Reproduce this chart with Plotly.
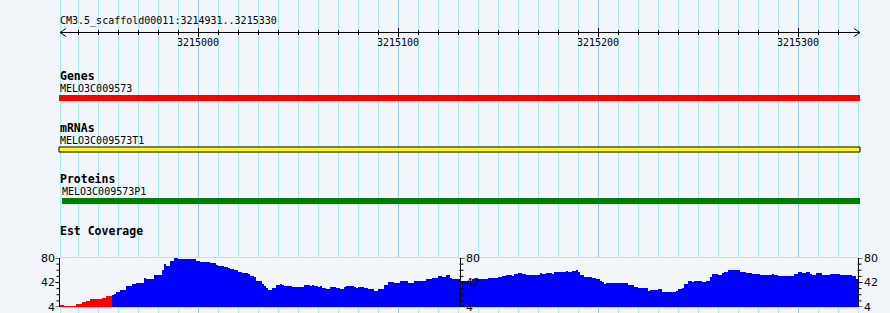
import plotly.graph_objects as go
import numpy as np

# ---------------- data ----------------
view_start = 3214931
view_end = 3215330
region_title = "CM3.5_scaffold00011:3214931..3215330"
major_ticks = [3215000, 3215100, 3215200, 3215300]
major_tick_labels = ["3215000", "3215100", "3215200", "3215300"]

track_names = ["Genes", "mRNAs", "Proteins"]
feature_names = ["MELO3C009573", "MELO3C009573T1", "MELO3C009573P1"]
feature_starts = [3214800, 3214800, 3214932]
feature_ends = [3215500, 3215500, 3215500]
feature_colors = ["#FF0000", "#FFFF00", "#008000"]

cov_track_name = "Est Coverage"
# coverage runs: start offset (bp from view_start) and depth
cov_offsets = [0, 2, 8, 11, 13, 15, 17, 21, 23, 26, 27, 28, 30, 33, 36, 38, 42, 43, 47, 51,
               52, 53, 55, 57, 59, 61, 68, 70, 72, 75, 77, 78, 79, 82, 84, 85, 87, 89, 90, 91,
               94, 95, 97, 98, 101, 102, 103, 104, 106, 108, 110, 111, 112, 116, 118, 120, 122, 125, 126, 127,
               129, 130, 131, 133, 135, 138, 140, 142, 143, 147, 148, 149, 152, 154, 157, 159, 162, 164, 167, 170,
               174, 177, 178, 183, 186, 189, 191, 193, 195, 196, 200, 206, 214, 219, 221, 223, 226, 227, 229, 231,
               233, 240, 241, 243, 246, 247, 253, 254, 256, 258, 259, 260, 262, 266, 268, 270, 271, 272, 273, 284,
               287, 289, 294, 295, 299, 301, 308, 309, 311, 312, 314, 316, 317, 321, 323, 325, 326, 327, 329, 331,
               332, 334, 340, 343, 346, 348, 350, 356, 357, 359, 367, 369, 371, 373, 375, 376, 378, 381, 382, 385,
               390, 396, 398]
cov_values = [7.6, 5.5, 9, 11.7, 13.8, 16, 17, 18, 20.6, 22, 24.6, 27, 31, 37, 39, 41.7, 49, 48, 54, 61,
              70, 67.5, 76, 80, 78, 79, 75, 74, 74.5, 72.5, 71.5, 69.6, 67.5, 66, 64.5, 63, 61, 59, 58, 57,
              55, 52, 50.5, 44, 40, 36, 33.5, 31, 33.5, 37.6, 39.6, 37.6, 36.6, 34.5, 35.5, 34.5, 38, 37, 38.6, 36.6,
              35, 36, 34, 32.5, 35.5, 34, 32.5, 34.5, 37, 35.5, 34, 34.5, 33.5, 31.5, 29.5, 31.5, 38.6, 42.7, 41.7, 44,
              41.7, 44, 44.8, 48, 49.5, 52, 50.6, 53, 49.5, 48, 45, 48, 49, 51, 52, 53, 51.5, 55.7, 57, 55,
              54, 57, 54.5, 56, 55.5, 58, 60, 58, 59.5, 62, 58, 54, 50.5, 49.5, 48, 44.8, 42.7, 39.6, 41, 38.6,
              35.5, 33.5, 29, 31, 32.5, 28, 29, 31.5, 33.5, 40, 44.3, 42.7, 44.5, 42.7, 44.8, 50.5, 54.7, 55.7, 54.3, 56,
              58, 62, 58, 57, 54.5, 55.5, 54, 55, 54, 51.6, 55.7, 58, 57, 58, 55.5, 54, 56, 54, 53, 55,
              53.5, 52, 48]
cov_end_offset = 399
cov_min, cov_max = 4, 80
cov_tick_labels = ["80", "42", "4"]
cov_low_threshold = 21

# ---------------- layout constants ----------------
W, H = 890, 313
BG = "#F2F5FA"
GRID_MINOR = "#A8EEF0"
GRID_MAJOR = "#99CCEE"
FONT = "DejaVu Sans Mono"
x0 = view_start - 30
x1 = x0 + W / 2.0
cov_top_px, cov_bot_px = 258, 307

fig = go.Figure()

# coverage bars
starts = np.array(cov_offsets, dtype=float)
ends = np.append(starts[1:], cov_end_offset)
widths = ends - starts
centers = view_start + starts + widths / 2.0
cols = ["#FF0000" if v < cov_low_threshold else "#0000FF" for v in cov_values]
fig.add_trace(go.Bar(x=centers, y=cov_values, width=widths, marker=dict(color=cols, line=dict(width=0)),
                     xaxis="x", yaxis="y2", hoverinfo="skip", showlegend=False))

shapes = []
ann = []

# vertical grid lines
grid_pos = [view_start] + list(range(3214940, view_end + 1, 10))
for p in grid_pos:
    c = GRID_MAJOR if p % 100 == 0 else GRID_MINOR
    shapes.append(dict(type="line", xref="x", yref="y", x0=p + 0.25, x1=p + 0.25, y0=0, y1=H,
                       line=dict(color=c, width=1), layer="below"))

# horizontal grid lines in coverage panel (pixel rows)
for r in [257.5, 262.5, 268.5, 275.5, 282.5, 289.5, 296.5, 302.5, 307.5]:
    shapes.append(dict(type="line", xref="x", yref="y", x0=view_start, x1=view_end + 0.5, y0=r, y1=r,
                       line=dict(color=GRID_MINOR, width=1), layer="below"))

# ruler
ay = 32.5
shapes.append(dict(type="line", xref="x", yref="y", x0=view_start, x1=view_end + 1, y0=ay, y1=ay,
                   line=dict(color="black", width=1)))
for (xa, xb) in [(view_start, view_start + 3), (view_end + 1, view_end - 2)]:
    shapes.append(dict(type="line", xref="x", yref="y", x0=xb, x1=xa, y0=ay - 4, y1=ay, line=dict(color="black", width=1)))
    shapes.append(dict(type="line", xref="x", yref="y", x0=xb, x1=xa, y0=ay + 4, y1=ay, line=dict(color="black", width=1)))
for p in range(3214940, view_end, 10):
    major = p in major_ticks
    shapes.append(dict(type="line", xref="x", yref="y", x0=p + 0.25, x1=p + 0.25,
                       y0=ay - (4.5 if major else 2.5), y1=ay + (4.5 if major else 2.5),
                       line=dict(color="black", width=1)))
for p, lab in zip(major_ticks, major_tick_labels):
    ann.append(dict(x=p, y=42, xref="x", yref="y", text=lab, showarrow=False, xanchor="center",
                    yanchor="middle", font=dict(family=FONT, size=10, color="black")))
ann.append(dict(x=view_start, y=21, xref="x", yref="y", text=region_title, showarrow=False, xanchor="left",
                yanchor="middle", xshift=-2, font=dict(family=FONT, size=10, color="black")))

# feature tracks
label_y = [76, 128, 179]
name_y = [88, 140, 191]
bar_y = [(95, 101), (147, 152), (198, 204)]
for i in range(3):
    fs = max(feature_starts[i], view_start - 0.5)
    fe = min(feature_ends[i], view_end + 1)
    ann.append(dict(x=view_start, y=label_y[i], xref="x", yref="y", text="<b>" + track_names[i] + "</b>",
                    showarrow=False, xanchor="left", yanchor="middle", xshift=-2,
                    font=dict(family=FONT, size=11.5, color="black")))
    ann.append(dict(x=max(fs, view_start), y=name_y[i], xref="x", yref="y", text=feature_names[i],
                    showarrow=False, xanchor="left", yanchor="middle", xshift=-2,
                    font=dict(family=FONT, size=10, color="black")))
    outline = dict(color="black", width=1) if feature_colors[i] == "#FFFF00" else dict(width=0)
    shapes.append(dict(type="rect", xref="x", yref="y", x0=fs, x1=fe, y0=bar_y[i][0], y1=bar_y[i][1],
                       fillcolor=feature_colors[i], line=outline, layer="above"))

ann.append(dict(x=view_start, y=231, xref="x", yref="y", text="<b>" + cov_track_name + "</b>",
                showarrow=False, xanchor="left", yanchor="middle", xshift=-2,
                font=dict(family=FONT, size=11.5, color="black")))

# coverage y axes (left, middle, right)
tick_vals = list(np.linspace(cov_min, cov_max, 9))
label_vals = [cov_max, (cov_min + cov_max) / 2, cov_min]
axes_pos = [(view_start - 0.25, -1, "right"), (3215131.25, 1, "left"), (view_end + 0.25, 1, "left")]
for xp, d, anchor in axes_pos:
    shapes.append(dict(type="line", xref="x", yref="y2", x0=xp, x1=xp, y0=cov_min, y1=cov_max,
                       line=dict(color="black", width=1)))
    for v in tick_vals:
        major = any(abs(v - m) < 1e-6 for m in label_vals)
        ln = 2.0 if major else 1.5
        shapes.append(dict(type="line", xref="x", yref="y2", x0=xp - (0.5 if d > 0 else 0),
                           x1=xp + d * ln, y0=v, y1=v, line=dict(color="black", width=1)))
    for v, lab in zip(label_vals, cov_tick_labels):
        ann.append(dict(x=xp + d * 1.5, y=v, xref="x", yref="y2", text=lab, showarrow=False, xanchor=anchor,
                        yanchor="middle", font=dict(family="DejaVu Sans", size=11, color="black")))

dom_lo = 1 - cov_bot_px / H
dom_hi = 1 - cov_top_px / H
fig.update_layout(
    width=W, height=H, margin=dict(l=0, r=0, t=0, b=0),
    paper_bgcolor=BG, plot_bgcolor=BG, showlegend=False, bargap=0,
    xaxis=dict(range=[x0, x1], domain=[0, 1], visible=False, fixedrange=True),
    yaxis=dict(range=[H, 0], domain=[0, 1], visible=False, fixedrange=True),
    yaxis2=dict(range=[cov_min, cov_max], domain=[dom_lo, dom_hi], anchor="x", visible=False, fixedrange=True),
    shapes=shapes, annotations=ann,
)
fig.write_html("out.html")
